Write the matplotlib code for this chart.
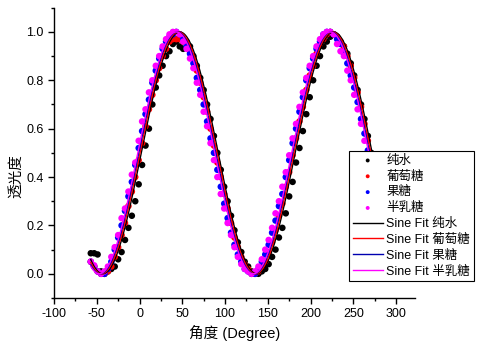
import numpy as np
import matplotlib.pyplot as plt

plt.rcParams['font.family'] = ['Liberation Sans', 'Noto Sans CJK SC', 'DejaVu Sans']
plt.rcParams['axes.unicode_minus'] = False

output_file = 'out.png'

# Angle values (degrees), shared by all four samples
angle = [-57, -53, -49, -45, -41, -37, -33, -29, -25, -21, -17, -13, -9, -5, -1,
         3, 7, 11, 15, 19, 23, 27, 31, 35, 39, 43, 47, 51, 55, 59, 63, 67, 71, 75,
         79, 83, 87, 91, 95, 99, 103, 107, 111, 115, 119, 123, 127, 131, 135, 139,
         143, 147, 151, 155, 159, 163, 167, 171, 175, 179, 183, 187, 191, 195, 199,
         203, 207, 211, 215, 219, 223, 227, 231, 235, 239, 243, 247, 251, 255, 259,
         263, 267, 271]

# Transmittance
pure_water = [0.085, 0.085, 0.08, 0.01, 0.0, 0.01, 0.02, 0.03, 0.06, 0.09, 0.14, 0.19,
              0.24, 0.30, 0.37, 0.45, 0.53, 0.60, 0.70, 0.77, 0.82, 0.86, 0.90, 0.92,
              0.95, 0.96, 0.94, 0.93, 0.96, 0.94, 0.90, 0.86, 0.81, 0.76, 0.70, 0.64,
              0.57, 0.50, 0.43, 0.36, 0.30, 0.24, 0.18, 0.13, 0.09, 0.05, 0.03, 0.01,
              0.0, 0.0, 0.01, 0.02, 0.04, 0.07, 0.10, 0.15, 0.19, 0.25, 0.32, 0.38,
              0.46, 0.52, 0.59, 0.66, 0.73, 0.80, 0.86, 0.90, 0.94, 0.96, 0.98, 0.99,
              0.98, 0.96, 0.94, 0.91, 0.87, 0.82, 0.76, 0.70, 0.64, 0.57, 0.50]
glucose = [0.05, 0.03, 0.01, 0.0, 0.0, 0.01, 0.03, 0.07, 0.11, 0.16, 0.21, 0.28,
           0.34, 0.40, 0.47, 0.54, 0.61, 0.68, 0.74, 0.80, 0.85, 0.90, 0.93, 0.96,
           0.97, 0.97, 0.97, 0.96, 0.95, 0.92, 0.89, 0.84, 0.79, 0.73, 0.67, 0.60,
           0.53, 0.46, 0.40, 0.33, 0.27, 0.21, 0.15, 0.11, 0.07, 0.04, 0.02, 0.0,
           0.0, 0.01, 0.03, 0.05, 0.09, 0.13, 0.18, 0.24, 0.29, 0.36, 0.42, 0.49,
           0.56, 0.63, 0.69, 0.76, 0.82, 0.86, 0.91, 0.95, 0.97, 0.99, 1.0, 0.99,
           0.98, 0.96, 0.94, 0.90, 0.86, 0.81, 0.75, 0.69, 0.62, 0.55, 0.48]
fructose = [0.05, 0.03, 0.01, 0.0, 0.0, 0.02, 0.05, 0.10, 0.15, 0.20, 0.26, 0.32,
            0.38, 0.45, 0.52, 0.59, 0.66, 0.72, 0.79, 0.84, 0.89, 0.93, 0.96, 0.98,
            0.99, 1.0, 0.99, 0.97, 0.94, 0.91, 0.87, 0.81, 0.76, 0.70, 0.63, 0.56,
            0.50, 0.43, 0.36, 0.29, 0.23, 0.17, 0.12, 0.08, 0.05, 0.02, 0.01, 0.0,
            0.0, 0.02, 0.05, 0.08, 0.12, 0.17, 0.22, 0.28, 0.33, 0.40, 0.47, 0.54,
            0.60, 0.67, 0.73, 0.80, 0.85, 0.89, 0.93, 0.96, 0.99, 1.0, 1.0, 0.99,
            0.97, 0.95, 0.91, 0.87, 0.82, 0.77, 0.71, 0.64, 0.58, 0.51, 0.44]
galactose = [0.05, 0.035, 0.01, 0.0, 0.01, 0.03, 0.07, 0.11, 0.16, 0.23, 0.27, 0.34,
             0.41, 0.46, 0.55, 0.63, 0.68, 0.75, 0.80, 0.86, 0.90, 0.94, 0.97, 0.99,
             1.0, 1.0, 0.99, 0.96, 0.93, 0.89, 0.85, 0.79, 0.74, 0.67, 0.61, 0.54,
             0.47, 0.40, 0.33, 0.27, 0.21, 0.16, 0.11, 0.07, 0.04, 0.02, 0.01, 0.0,
             0.01, 0.03, 0.06, 0.10, 0.14, 0.19, 0.25, 0.30, 0.36, 0.42, 0.49, 0.56,
             0.62, 0.69, 0.75, 0.81, 0.86, 0.90, 0.94, 0.97, 0.99, 1.0, 1.0, 0.99,
             0.95, 0.92, 0.90, 0.84, 0.80, 0.74, 0.68, 0.62, 0.55, 0.49, 0.42]

# Sine fit parameters y = y0 + A*sin(pi*(x - xc)/w)
fit_y0 = [0.5, 0.5, 0.5, 0.5]
fit_A = [0.5, 0.5, 0.5, 0.5]
fit_xc = [2.0, 0.5, -1.0, -2.0]
fit_w = [90.0, 90.0, 90.0, 90.0]

names = ['纯水', '葡萄糖', '果糖', '半乳糖']
colors = ['black', 'red', 'blue', 'magenta']
fit_colors = ['black', 'red', '#0000b0', 'magenta']
samples = [pure_water, glucose, fructose, galactose]

fig = plt.figure(figsize=(4.78, 3.51), dpi=100)
ax = fig.add_axes([0.113, 0.151, 0.755, 0.827])

handles = []
for name, col, ys in zip(names, colors, samples):
    h = ax.scatter(angle, ys, s=22, color=col, edgecolors='none', label=name, zorder=2)
    handles.append(h)

xfit = np.linspace(angle[0], angle[-1] + 4, 400)
for i, name in enumerate(names):
    yfit = fit_y0[i] + fit_A[i] * np.sin(np.pi * (xfit - fit_xc[i]) / fit_w[i])
    ln, = ax.plot(xfit, yfit, color=fit_colors[i], lw=1.0, label='Sine Fit ' + name, zorder=3)
    handles.append(ln)

ax.set_xlim(-100, 322)
ax.set_ylim(-0.1, 1.1)
ax.set_xticks(np.arange(-100, 301, 50))
ax.set_xticks(np.arange(-75, 322, 50), minor=True)
ax.set_yticks(np.arange(0, 1.01, 0.2))
ax.set_yticks(np.arange(-0.1, 1.11, 0.2), minor=True)
ax.tick_params(which='major', direction='out', length=4, width=1, labelsize=9)
ax.tick_params(which='minor', direction='out', length=2.5, width=1)
ax.spines['top'].set_visible(False)
ax.spines['right'].set_visible(False)
for s in ['left', 'bottom']:
    ax.spines[s].set_linewidth(1)

ax.set_xlabel('角度 (Degree)', fontsize=10.5, labelpad=3)
ax.set_ylabel('透光度', fontsize=10.5)
ax.yaxis.set_label_coords(-0.085, 0.42)

leg = ax.legend(handles=handles, loc='upper left', bbox_to_anchor=(0.730, 0.570),
                bbox_transform=fig.transFigure, borderaxespad=0, fontsize=9,
                frameon=True, fancybox=False, framealpha=1, edgecolor='black',
                handlelength=2.4, handletextpad=0.3, labelspacing=0.3,
                borderpad=0.3, markerscale=0.6)
leg.get_frame().set_linewidth(0.8)

plt.savefig(output_file, dpi=100)
